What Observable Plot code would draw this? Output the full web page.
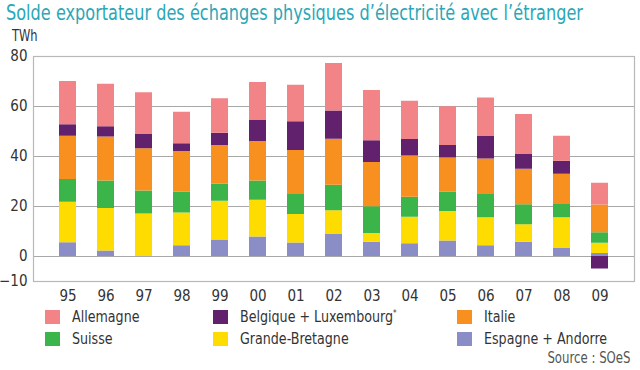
<!DOCTYPE html>
<html>
<head>
<meta charset="utf-8">
<script src="https://cdn.jsdelivr.net/npm/d3@7"></script>
<script src="https://cdn.jsdelivr.net/npm/@observablehq/plot@0.6"></script>
<style>
  html, body { margin: 0; padding: 0; background: #fff; }
  #wrap { position: relative; width: 640px; height: 370px; overflow: hidden;
    font-family: "DejaVu Sans Condensed", "Liberation Sans Narrow", "Roboto", sans-serif; color: #333; }
  #title { position: absolute; left: 6px; top: 1px; font-size: 21px; color: #2aa7b8; white-space: nowrap; transform-origin: left center; }
  #unit { position: absolute; left: 12px; top: 27px; font-size: 15px; color: #333; transform: scaleX(0.85); transform-origin: left center; }
  #chart { position: absolute; left: 0; top: 40px; }
  .leg { position: absolute; font-size: 16px; color: #333; white-space: nowrap; transform: scaleX(0.88); transform-origin: left center; }
  .sw { position: absolute; width: 15px; height: 14px; }
  #source { position: absolute; right: 9px; top: 349px; font-size: 15px; color: #555; transform: scaleX(0.87); transform-origin: right center; }
</style>
</head>
<body>
<div id="wrap">
  <div id="title">Solde exportateur des échanges physiques d’électricité avec l’étranger</div>
  <div id="unit">TWh</div>
  <div id="chart"></div>
  <div id="legend"></div>
  <div id="source">Source : SOeS</div>
</div>
<script>
// ---- Data (TWh) ----
const years = ["95","96","97","98","99","00","01","02","03","04","05","06","07","08","09"];
const espagne   = [5.5, 2.2, 0.0, 4.3, 6.6, 7.8, 5.4, 8.8, 5.7, 5.1, 6.2, 4.3, 5.7, 3.2, 1.2];
const grandeBretagne = [16.2, 17.0, 17.0, 13.1, 15.5, 14.7, 11.4, 9.5, 3.5, 10.6, 11.8, 11.2, 7.0, 12.3, 4.1];
const suisse    = [9.1, 11.0, 9.2, 8.3, 6.9, 7.7, 8.0, 10.2, 10.7, 8.0, 7.7, 9.3, 8.0, 5.6, 4.2];
const italie    = [17.3, 17.6, 16.9, 16.3, 15.4, 15.8, 17.6, 18.4, 17.7, 16.5, 13.7, 14.2, 14.2, 11.8, 11.1];
const belgique  = [4.6, 4.1, 5.7, 3.1, 4.9, 8.4, 11.5, 11.3, 8.7, 6.6, 5.0, 9.0, 5.9, 5.2, -5.0];
const allemagne = [17.3, 17.0, 16.7, 12.6, 13.8, 15.2, 14.6, 19.0, 20.1, 15.3, 15.5, 15.4, 16.0, 10.0, 8.7];

const seriesNames = ["Espagne + Andorre", "Grande-Bretagne", "Suisse", "Italie", "Belgique + Luxembourg*", "Allemagne"];
const seriesValues = [espagne, grandeBretagne, suisse, italie, belgique, allemagne];
const legendOrder = ["Allemagne", "Belgique + Luxembourg*", "Italie", "Suisse", "Grande-Bretagne", "Espagne + Andorre"];
const colors = {
  "Allemagne": "#f28488",
  "Belgique + Luxembourg*": "#61216c",
  "Italie": "#f7901f",
  "Suisse": "#3bb54a",
  "Grande-Bretagne": "#ffdc00",
  "Espagne + Andorre": "#8b8ec6"
};
const yTicks = [-10, 0, 20, 40, 60, 80];
const gridValues = [0, 20, 40, 60];

// ---- Table ----
const rows = [];
seriesNames.forEach((name, si) => {
  years.forEach((yr, i) => rows.push({year: yr, country: name, value: seriesValues[si][i]}));
});

const chart = Plot.plot({
  width: 640,
  height: 270,
  marginTop: 16,
  marginBottom: 29,
  marginLeft: 33,
  marginRight: 6,
  style: {fontFamily: '"DejaVu Sans Condensed", "Liberation Sans Narrow", sans-serif', fontSize: "15px", color: "#333", background: "transparent"},
  x: {domain: years, padding: 0.56, label: null},
  y: {domain: [-10, 80], label: null},
  color: {domain: legendOrder, range: legendOrder.map(d => colors[d])},
  marks: [
    Plot.ruleY(gridValues, {stroke: "#a8a8a8", strokeWidth: 1.2}),
    Plot.barY(rows, {x: "year", y: "value", fill: "country", inset: 0}),
    Plot.frame({stroke: "#b8b8b8", strokeWidth: 1.2}),
    Plot.axisY(yTicks, {tickSize: 0, tickPadding: 6, fontSize: 15, label: null}),
    Plot.axisX(years, {tickSize: 0, tickPadding: 9, fontSize: 15, label: null})
  ]
});
document.getElementById("chart").appendChild(chart);

// fit the title to the reference's width
const title = document.getElementById("title");
const tw = title.getBoundingClientRect().width;
title.style.transform = "scaleX(" + (577 / tw) + ")";

// ---- Legend ----
const legend = document.getElementById("legend");
const colX = [45, 213, 457];
const rowY = [310, 332];
legendOrder.forEach((name, i) => {
  const c = i % 3, r = Math.floor(i / 3);
  const sw = document.createElement("div");
  sw.className = "sw";
  sw.style.left = colX[c] + "px";
  sw.style.top = rowY[r] + "px";
  sw.style.background = colors[name];
  legend.appendChild(sw);
  const t = document.createElement("div");
  t.className = "leg";
  t.style.left = (colX[c] + 27) + "px";
  t.style.top = (rowY[r] - 3) + "px";
  if (name.endsWith("*")) {
    t.innerHTML = name.slice(0, -1) + '<sup style="font-size:9px">*</sup>';
  } else {
    t.textContent = name;
  }
  legend.appendChild(t);
});
</script>
</body>
</html>
